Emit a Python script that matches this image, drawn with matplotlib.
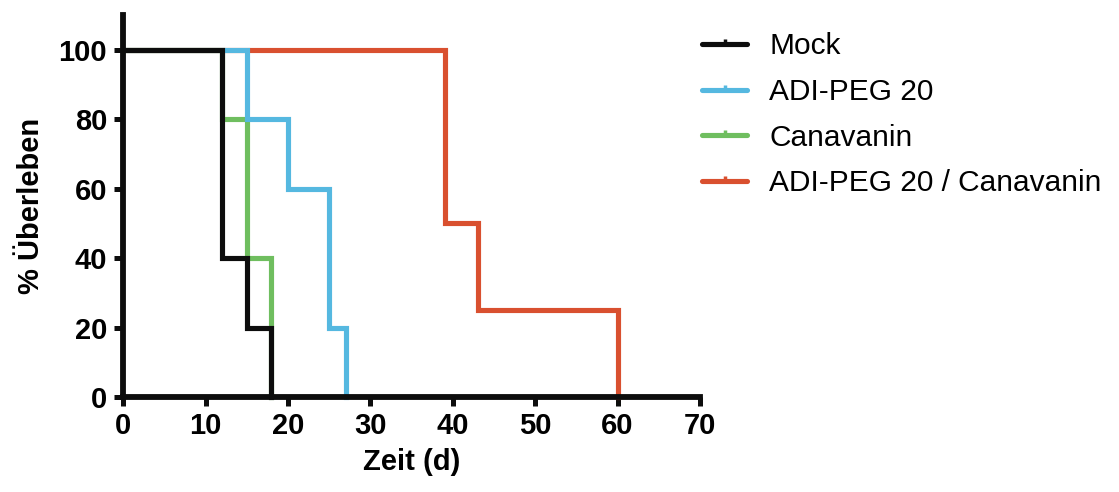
import matplotlib
matplotlib.use("Agg")
import matplotlib.pyplot as plt
from matplotlib.path import Path
from matplotlib.lines import Line2D

plt.rcParams['font.family'] = ['Liberation Sans', 'DejaVu Sans']

# Kaplan-Meier survival steps (time in days, % surviving)
groups = ["Mock", "ADI-PEG 20", "Canavanin", "ADI-PEG 20 / Canavanin"]
mock_t = [0, 12, 15, 18]
mock_s = [100, 40, 20, 0]
adi_t = [0, 15, 20, 25, 27]
adi_s = [100, 80, 60, 20, 0]
can_t = [0, 12, 15, 18]
can_s = [100, 80, 40, 0]
combo_t = [0, 39, 43, 60]
combo_s = [100, 50, 25, 0]

colors = ["#0d0d0d", "#55b8e0", "#6fbe5f", "#d9502f"]
xticks = [0, 10, 20, 30, 40, 50, 60, 70]
yticks = [0, 20, 40, 60, 80, 100]

fig = plt.figure(figsize=(11.19, 4.92), dpi=100)
ax = fig.add_axes([0.110, 0.193, 0.5156, 0.777])

series = [(mock_t, mock_s), (adi_t, adi_s), (can_t, can_s), (combo_t, combo_s)]
zorders = [6, 5, 4, 3]
lw = 3.7
for (t, s), c, z in zip(series, colors, zorders):
    # extend each curve with a vertical drop to the final value
    ax.step(t + [t[-1]], s + [s[-1]], where="post", color=c, lw=lw,
            zorder=z, solid_joinstyle="miter", clip_on=False)

ax.set_xlim(0, 70)
ax.set_ylim(0, 110)
ax.set_xticks(xticks)
ax.set_yticks(yticks)
for sp in ["top", "right"]:
    ax.spines[sp].set_visible(False)
for sp in ["left", "bottom"]:
    ax.spines[sp].set_linewidth(4.2)
    ax.spines[sp].set_color("#0d0d0d")
    ax.spines[sp].set_zorder(7)
ax.tick_params(axis="both", direction="out", length=6.5, width=3.6,
               color="#0d0d0d", labelsize=21, pad=4)
ax.tick_params(axis="y", pad=5)
for lab in ax.get_xticklabels() + ax.get_yticklabels():
    lab.set_fontweight("bold")

ax.set_xlabel("Zeit (d)", fontsize=21, fontweight="bold", labelpad=6)
ax.set_ylabel("% Überleben", fontsize=21, fontweight="bold", labelpad=10)

# legend handles: short line with an upward censor tick
tick_marker = Path([(0, 0), (0, 1)], [Path.MOVETO, Path.LINETO])
handles = [Line2D([0], [0], color=c, lw=lw, marker=tick_marker,
                  markersize=7, markeredgewidth=2.5, solid_capstyle="round")
           for c in colors]
leg = ax.legend(handles, groups, loc="upper left", bbox_to_anchor=(0.983, 0.985),
                frameon=False, fontsize=21.5, handlelength=1.5,
                handletextpad=0.75, labelspacing=0.59, borderaxespad=0)

fig.savefig("out.png", dpi=100)
